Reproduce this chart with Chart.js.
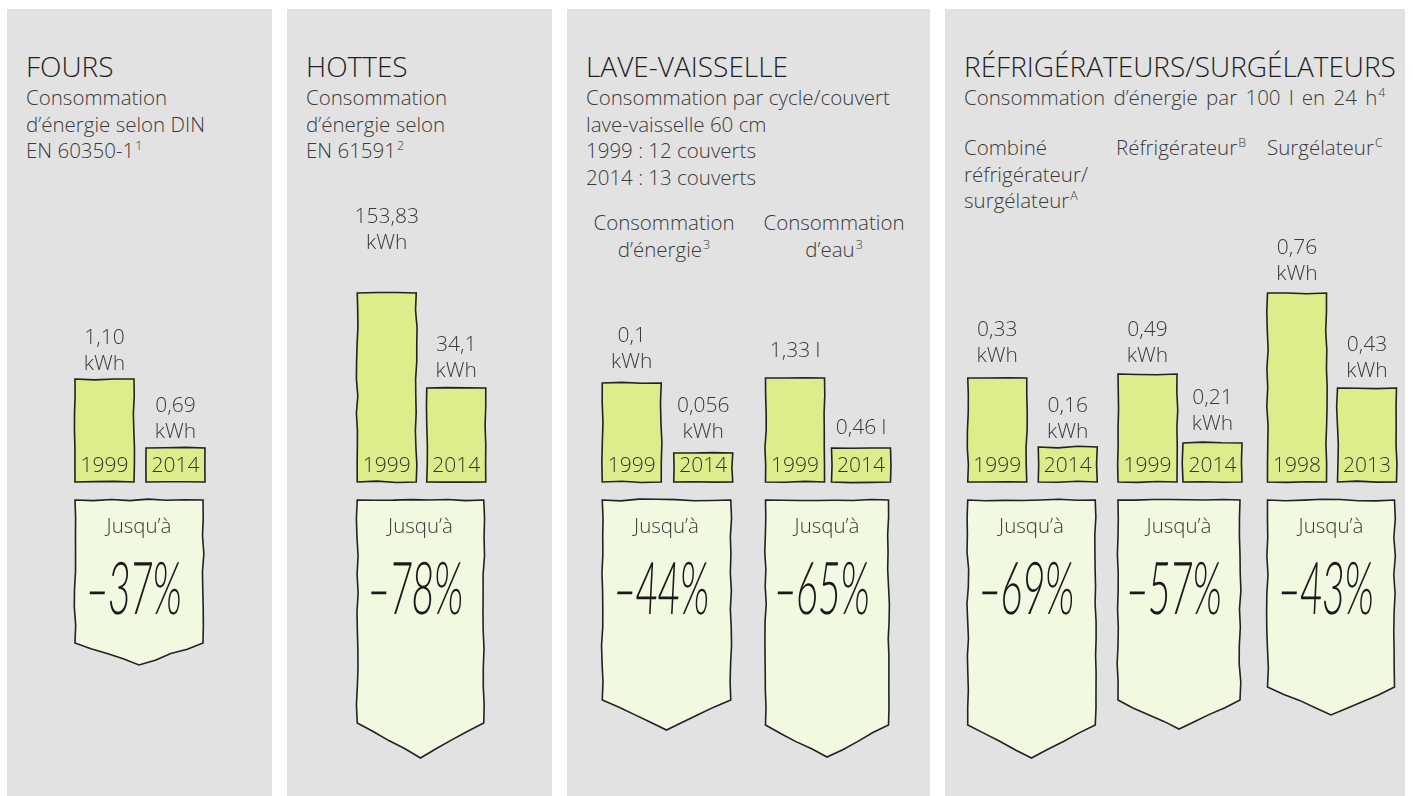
<!DOCTYPE html>
<html lang="fr">
<head>
<meta charset="utf-8">
<title>Consommation d'énergie des appareils</title>
<script src="https://cdn.jsdelivr.net/npm/chart.js@4"></script>
<style>
  body { margin: 0; width: 1413px; height: 796px; overflow: hidden; position: relative; background: #fff;
         font-family: "Open Sans", sans-serif; font-weight: 300; color: #3a3a3a; }
  .panel { position: absolute; top: 9px; height: 787px; background: #e2e2e2; }
  .title { position: absolute; font-size: 28px; line-height: 32px; color: #1e1e1e; white-space: nowrap; }
  .txt { position: absolute; font-size: 20.5px; line-height: 26.5px; white-space: nowrap; }
  .center { text-align: center; width: 170px; }
  sup { font-size: 12.5px; vertical-align: 8px; line-height: 0; margin-left: 1px; }
  .pair { position: absolute; top: 150px; }
</style>
</head>
<body>
<div class="panel" style="left:7px;width:265px"></div>
<div class="panel" style="left:287px;width:265px"></div>
<div class="panel" style="left:567px;width:363px"></div>
<div class="panel" style="left:945px;width:460px"></div>

<div class="title" style="left:26px;top:50px">FOURS</div>
<div class="txt" style="left:26px;top:84px">Consommation<br>d’énergie selon DIN<br>EN 60350-1<sup>1</sup></div>

<div class="title" style="left:306px;top:50px">HOTTES</div>
<div class="txt" style="left:306px;top:84px">Consommation<br>d’énergie selon<br>EN 61591<sup>2</sup></div>

<div class="title" style="left:586px;top:50px">LAVE-VAISSELLE</div>
<div class="txt" style="left:586px;top:84px">Consommation par cycle/couvert<br>lave-vaisselle 60 cm<br>1999 : 12 couverts<br>2014 : 13 couverts</div>
<div class="txt center" style="left:579px;top:209px">Consommation<br>d’énergie<sup>3</sup></div>
<div class="txt center" style="left:749px;top:209px">Consommation<br>d’eau<sup>3</sup></div>

<div class="title" style="left:964px;top:50px">RÉFRIGÉRATEURS/SURGÉLATEURS</div>
<div class="txt" style="left:964px;top:84px;word-spacing:3px">Consommation d’énergie par 100 l en 24 h<sup>4</sup></div>
<div class="txt" style="left:964px;top:134px">Combiné<br>réfrigérateur/<br>surgélateur<sup>A</sup></div>
<div class="txt" style="left:1116px;top:134px">Réfrigérateur<sup>B</sup></div>
<div class="txt" style="left:1267px;top:134px">Surgélateur<sup>C</sup></div>

<script>
// before / after values per appliance
const groups = ['Fours', 'Hottes', 'Lave-vaisselle énergie', 'Lave-vaisselle eau', 'Combiné', 'Réfrigérateur', 'Surgélateur'];
const years = [['1999', '2014'], ['1999', '2014'], ['1999', '2014'], ['1999', '2014'], ['1999', '2014'], ['1999', '2014'], ['1998', '2013']];
const valuesBefore = [1.10, 153.83, 0.1, 1.33, 0.33, 0.49, 0.76];
const valuesAfter = [0.69, 34.1, 0.056, 0.46, 0.16, 0.21, 0.43];
const digitsBefore = [2, 2, 1, 2, 2, 2, 2];
const digitsAfter = [2, 1, 3, 2, 2, 2, 2];
const units = ['kWh', 'kWh', 'kWh', 'l', 'kWh', 'kWh', 'kWh'];
const reductions = [37, 78, 44, 65, 69, 57, 43];

// where each pair sits and how its value axis is stretched
const pairLeft = [69, 352, 596, 761.5, 962, 1114.5, 1262];
const pairWidth = [142, 139, 143, 132, 141, 130, 140];
const axisMin = [0.488, -84.4, 0.0378, 0.0374, 0.0738, 0.0517, 0.1035];
const axisMax = [2.461, 334.0, 0.2465, 4.164, 0.892, 1.399, 1.257];
const labelGap = [[9, 10], [44, 11], [15, 15], [21, 14], [16, 9], [12, 13], [13, 11]];
const bannerSide = [143, 223, 200, 225, 225, 200, 187];
const bannerTip = [165, 258, 230, 257, 258, 229, 215];

const barFill = '#dcee8c';
const bannerFill = '#f1f9e0';
const ink = '#222';
const FONT = '"Open Sans", sans-serif';
const BIG_FONT = 'Lato, "Open Sans", sans-serif';

function jitter(seed, k) {
  const h = Math.sin(seed * 91.7 + k * 47.3) * 43758.5453;
  return (h - Math.floor(h)) * 2 - 1;
}

// closed outline with a slightly shaky hand
function sketchPath(ctx, pts, seed, amp) {
  ctx.beginPath();
  let k = 0;
  for (let s = 0; s < pts.length; s++) {
    const [ax, ay] = pts[s];
    const [bx, by] = pts[(s + 1) % pts.length];
    const len = Math.hypot(bx - ax, by - ay);
    const n = Math.max(2, Math.round(len / 18));
    const nx = -(by - ay) / len, ny = (bx - ax) / len;
    for (let t = 0; t < n; t++) {
      const f = t / n;
      const o = t === 0 ? 0 : jitter(seed, k++) * amp;
      const px = ax + (bx - ax) * f + nx * o;
      const py = ay + (by - ay) * f + ny * o;
      if (s === 0 && t === 0) ctx.moveTo(px, py); else ctx.lineTo(px, py);
    }
  }
  ctx.closePath();
}

function fmt(v, d) {
  return v.toFixed(d).replace('.', ',');
}

const sketchPlugin = {
  id: 'sketch',
  afterDatasetsDraw(chart, args, opts) {
    const i = opts.index;
    const ctx = chart.ctx;
    const bars = chart.getDatasetMeta(0).data.map(b => b.getProps(['x', 'y', 'base', 'width'], true));
    const texts = [fmt(valuesBefore[i], digitsBefore[i]), fmt(valuesAfter[i], digitsAfter[i])];

    ctx.save();
    bars.forEach((p, j) => {
      const x0 = p.x - p.width / 2, x1 = p.x + p.width / 2;
      sketchPath(ctx, [[x0, p.y], [x1, p.y], [x1, p.base], [x0, p.base]], i * 7 + j + 1, 0.9);
      ctx.strokeStyle = ink;
      ctx.lineWidth = 1.6;
      ctx.stroke();

      ctx.textAlign = 'center';
      ctx.textBaseline = 'alphabetic';
      ctx.fillStyle = '#333';
      ctx.font = '300 21px ' + FONT;
      ctx.fillText(years[i][j], p.x, p.base - 10);

      ctx.fillStyle = '#3a3a3a';
      const yb = p.y - labelGap[i][j];
      if (units[i] === 'l') {
        ctx.fillText(texts[j] + ' l', p.x, yb);
      } else {
        ctx.fillText(texts[j], p.x, yb - 26);
        ctx.fillText(units[i], p.x, yb);
      }
    });

    // "Jusqu'à" pennant under the bars
    const left = bars[0].x - bars[0].width / 2;
    const right = bars[1].x + bars[1].width / 2 - 2;
    const cx = (left + right) / 2;
    const top = chart.chartArea.bottom + 18;
    const side = top + bannerSide[i];
    const tip = top + bannerTip[i];
    sketchPath(ctx, [[left, top], [right, top], [right, side], [cx, tip], [left, side]], i * 13 + 5, 0.9);
    ctx.fillStyle = bannerFill;
    ctx.fill();
    ctx.strokeStyle = ink;
    ctx.lineWidth = 1.6;
    ctx.stroke();

    ctx.fillStyle = '#3a3a3a';
    ctx.font = '300 20.5px ' + FONT;
    ctx.fillText('Jusqu’à', cx, top + 33);

    ctx.fillStyle = '#1a1a1a';
    ctx.font = '300 73px ' + BIG_FONT;
    ctx.translate(cx - 6, top + 114);
    ctx.transform(0.52, 0, -0.05, 1, 0, 0);
    ctx.fillText('–' + reductions[i] + '%', 0, 0);
    ctx.restore();
  }
};

function buildPair(i) {
  const holder = document.createElement('div');
  holder.className = 'pair';
  holder.style.left = pairLeft[i] + 'px';
  const canvas = document.createElement('canvas');
  canvas.width = pairWidth[i];
  canvas.height = 646;
  holder.appendChild(canvas);
  document.body.appendChild(holder);

  new Chart(canvas, {
    type: 'bar',
    data: {
      labels: years[i],
      datasets: [{
        label: groups[i],
        data: [valuesBefore[i], valuesAfter[i]],
        base: axisMin[i],
        backgroundColor: barFill,
        borderWidth: 0,
        barThickness: 59
      }]
    },
    options: {
      responsive: false,
      animation: false,
      layout: { padding: { top: 0, bottom: 314, left: 0, right: 0 } },
      scales: {
        x: { display: false },
        y: { display: false, min: axisMin[i], max: axisMax[i] }
      },
      plugins: {
        legend: { display: false },
        tooltip: { enabled: false },
        sketch: { index: i }
      }
    },
    plugins: [sketchPlugin]
  });
}

Promise.all([
  document.fonts.load('300 21px "Open Sans"'),
  document.fonts.load('300 73px Lato')
]).catch(() => {}).then(() => {
  groups.forEach((g, i) => buildPair(i));
});
</script>
</body>
</html>
